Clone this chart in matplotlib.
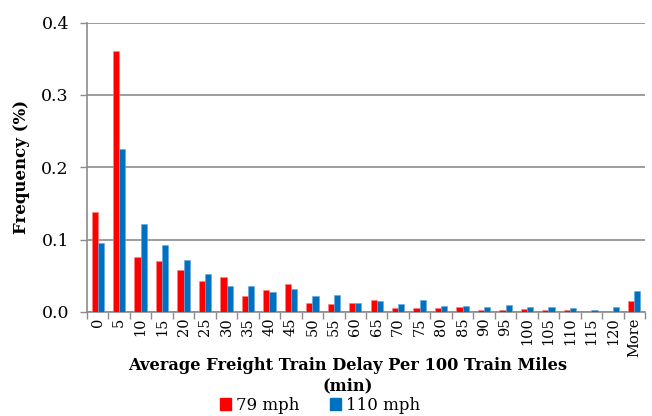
import numpy as np
import matplotlib
matplotlib.use('Agg')
import matplotlib.pyplot as plt
from matplotlib.patches import Patch

# Data
categories = ['0', '5', '10', '15', '20', '25', '30', '35', '40', '45', '50',
              '55', '60', '65', '70', '75', '80', '85', '90', '95', '100',
              '105', '110', '115', '120', 'More']
freq_79 = [0.138, 0.360, 0.076, 0.070, 0.058, 0.043, 0.048, 0.022, 0.030,
           0.038, 0.0125, 0.011, 0.013, 0.017, 0.005, 0.005, 0.005, 0.0065,
           0.0023, 0.0023, 0.0037, 0.0023, 0.0023, 0.0, 0.0, 0.0148]
freq_110 = [0.096, 0.225, 0.122, 0.092, 0.072, 0.053, 0.0355, 0.0355, 0.027,
            0.032, 0.0217, 0.023, 0.012, 0.0157, 0.0106, 0.0166, 0.0088,
            0.0079, 0.0065, 0.0092, 0.0065, 0.0065, 0.005, 0.0032, 0.0065,
            0.029]
series_labels = ['79 mph', '110 mph']

RED = '#FF0000'
BLUE = '#0070C0'
GRID = '#8C8C8C'

plt.rcParams['font.family'] = ['DejaVu Serif']

W, H = 652, 416
fig = plt.figure(figsize=(W / 100, H / 100), dpi=100)
ax = fig.add_axes([87 / W, (H - 312) / H, (645 - 87) / W, (312 - 22.5) / H])

x = np.arange(len(categories))
bw = 0.29
ax.bar(x - bw / 2, freq_79, width=bw, color=RED, edgecolor='#FF8080',
       linewidth=0.4, zorder=3)
ax.bar(x + bw / 2, freq_110, width=bw, color=BLUE, edgecolor='#60A8E0',
       linewidth=0.4, zorder=3)

ax.set_xlim(-0.5, len(categories) - 0.5)
ax.set_ylim(0, 0.4)
ax.set_yticks([0, 0.1, 0.2, 0.3, 0.4])
ax.set_yticklabels(['0.0', '0.1', '0.2', '0.3', '0.4'], fontsize=12.5)

# category labels centred, tick marks on the boundaries
ax.set_xticks(x)
ax.set_xticklabels(categories, rotation=90, fontsize=10.5)
ax.tick_params(axis='x', length=0, pad=4)
ax.set_xticks(np.arange(-0.5, len(categories)), minor=True)
ax.tick_params(axis='x', which='minor', length=5, color=GRID, width=1)
ax.tick_params(axis='y', length=5, color=GRID, width=1, pad=8)

ax.grid(axis='y', color=GRID, linewidth=1.2, zorder=0)
for s in ['top', 'right']:
    ax.spines[s].set_visible(False)
for s in ['left', 'bottom']:
    ax.spines[s].set_color(GRID)
    ax.spines[s].set_linewidth(1.2)

ax.set_ylabel('Frequency (%)', fontsize=12, fontweight='bold', labelpad=8)

fig.text(348 / W, 1 - 366 / H, 'Average Freight Train Delay Per 100 Train Miles',
         ha='center', va='center', fontsize=11.7, fontweight='bold')
fig.text(348 / W, 1 - 386 / H, '(min)', ha='center', va='center',
         fontsize=11.7, fontweight='bold')

handles = [Patch(color=RED), Patch(color=BLUE)]
fig.legend(handles, series_labels, loc='center', ncol=2,
           bbox_to_anchor=(320 / W, 1 - 405 / H), frameon=False,
           fontsize=12, handlelength=0.7, handleheight=0.7,
           handletextpad=0.3, columnspacing=1.8, borderpad=0.1)

fig.savefig('out.png', dpi=100)
